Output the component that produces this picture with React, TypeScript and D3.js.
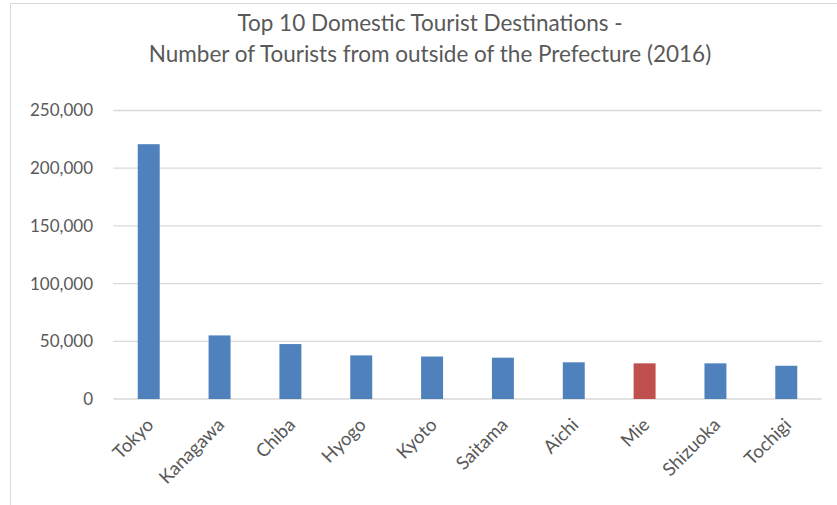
import React from "react";
import * as d3 from "d3";

const categories = ["Tokyo", "Kanagawa", "Chiba", "Hyogo", "Kyoto", "Saitama", "Aichi", "Mie", "Shizuoka", "Tochigi"];
const values = [220800, 55100, 47600, 37800, 36800, 35800, 31800, 30900, 30900, 28800];
const highlight = ["Mie"];
const yTicks = [0, 50000, 100000, 150000, 200000, 250000];
const titleLines = ["Top 10 Domestic Tourist Destinations -", "Number of Tourists from outside of the Prefecture (2016)"];

const W = 837;
const H = 505;
const left = 113.3;
const right = 821.7;
const top = 110.5;
const bottom = 399;
const FONT = "Lato, 'Open Sans', sans-serif";
const TEXT = "#595959";

export default function App() {
  const x = d3.scaleBand<string>().domain(categories).range([left, right]).paddingInner(0.69).paddingOuter(0.345);
  const y = d3.scaleLinear().domain([0, 250000]).range([bottom, top]);
  const fmt = d3.format(",");
  return (
    <svg width={W} height={H} style={{ position: "absolute", left: 0, top: 0, background: "#fff" }}>
      <rect x={0} y={0} width={W} height={H} fill="#fff" />
      <line x1={10.5} y1={3.5} x2={W} y2={3.5} stroke="#d9d9d9" />
      <line x1={10.5} y1={3.5} x2={10.5} y2={H} stroke="#d9d9d9" />
      {titleLines.map((t, i) => (
        <text key={i} x={430} y={31 + i * 31} textAnchor="middle" fontFamily={FONT} fontSize={22.5} fill={TEXT}>
          {t}
        </text>
      ))}
      {yTicks.map((t) => (
        <g key={t}>
          <line x1={left} x2={right} y1={y(t)} y2={y(t)} stroke="#d9d9d9" strokeWidth={1.3} />
          <text x={93} y={y(t)} dy="0.35em" textAnchor="end" fontFamily={FONT} fontSize={17} fill={TEXT}>
            {fmt(t)}
          </text>
        </g>
      ))}
      {categories.map((c, i) => (
        <rect
          key={c}
          x={x(c)}
          y={y(values[i])}
          width={x.bandwidth()}
          height={y(0) - y(values[i])}
          fill={highlight.includes(c) ? "#c0504d" : "#4f81bd"}
        />
      ))}
      {categories.map((c) => {
        const cx = (x(c) as number) + x.bandwidth() / 2 + 6;
        const cy = 426;
        return (
          <text
            key={c}
            transform={`translate(${cx},${cy}) rotate(-45)`}
            textAnchor="end"
            fontFamily={FONT}
            fontSize={18.5}
            fill={TEXT}
          >
            {c}
          </text>
        );
      })}
    </svg>
  );
}
